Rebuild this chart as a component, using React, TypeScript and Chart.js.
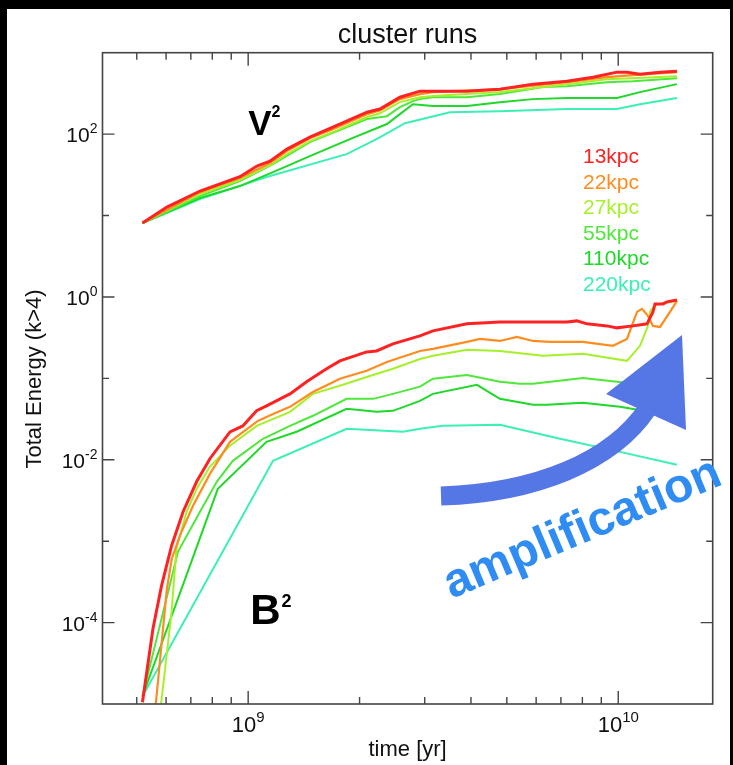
import { useEffect, useRef } from 'react';
import { Chart, registerables } from 'chart.js';

Chart.register(...registerables);

// ---------- data ----------
const seriesLabels = ['13kpc', '22kpc', '27kpc', '55kpc', '110kpc', '220kpc'];
const seriesColors = ['#ff2222', '#ff8c1e', '#a6f02a', '#4fe83a', '#1ed82a', '#3af0b4'];
const seriesWidths = [3, 2.2, 2, 2, 2, 2];

// V^2 (kinetic) curves: [time yr, energy]
const v2_13kpc = [[5.18e8, 8.1], [6.03e8, 12.7], [7.41e8, 20.0], [9.5e8, 30.0], [1.056e9, 40.5], [1.145e9, 46.6], [1.273e9, 65.5], [1.468e9, 92], [1.694e9, 122], [2.094e9, 186], [2.27e9, 203], [2.57e9, 284], [2.912e9, 337], [3.157e9, 337], [3.901e9, 337], [4.789e9, 356], [5.883e9, 411], [7.267e9, 447], [8.546e9, 500], [9.92e9, 577], [1.056e10, 577], [1.145e10, 545], [1.297e10, 577], [1.441e10, 593]];
const v2_22kpc = [[5.18e8, 8.1], [7.41e8, 19.4], [9.5e8, 29], [1.145e9, 44], [1.273e9, 62], [1.468e9, 89], [1.694e9, 115], [2.094e9, 176], [2.27e9, 195], [2.57e9, 269], [2.912e9, 310], [3.157e9, 328], [4.789e9, 356], [7.267e9, 435], [9.32e9, 500], [1.096e10, 530], [1.441e10, 577]];
const v2_27kpc = [[5.18e8, 8.1], [7.41e8, 18.4], [9.5e8, 27.3], [1.145e9, 41.7], [1.273e9, 56.8], [1.468e9, 82], [1.694e9, 106], [2.094e9, 162], [2.27e9, 180], [2.57e9, 247], [2.912e9, 284], [3.157e9, 293], [4.789e9, 328], [7.267e9, 411], [9.32e9, 473], [1.441e10, 515]];
const v2_55kpc = [[5.18e8, 8.1], [7.41e8, 17.3], [9.5e8, 26.5], [1.167e9, 42.8], [1.468e9, 79.8], [2.094e9, 153], [2.371e9, 166], [2.57e9, 214], [2.787e9, 254], [2.912e9, 269], [3.157e9, 284], [3.901e9, 284], [4.789e9, 310], [6.26e9, 378], [7.267e9, 388], [9.32e9, 435], [1.096e10, 447], [1.441e10, 486]];
const v2_110kpc = [[5.18e8, 8.1], [7.41e8, 16.4], [9.5e8, 23.0], [1.167e9, 34.2], [1.468e9, 53.7], [1.883e9, 86.9], [2.371e9, 133], [2.57e9, 176], [2.787e9, 233], [3.157e9, 221], [3.901e9, 221], [4.789e9, 247], [5.883e9, 269], [7.267e9, 277], [9.92e9, 277], [1.145e10, 328], [1.441e10, 411]];
const v2_220kpc = [[5.18e8, 8.1], [7.41e8, 15.9], [1.121e9, 29.7], [1.845e9, 56.8], [2.223e9, 86.9], [2.652e9, 136], [3.51e9, 186], [4.789e9, 191], [7.267e9, 203], [9.92e9, 203], [1.145e10, 233], [1.441e10, 277]];

// B^2 (magnetic) curves: [time yr, energy]
const b2_13kpc = [[5.18e8, 1.05e-5], [5.53e8, 8.4e-5], [5.83e8, 2.8e-4], [6.21e8, 8.8e-4], [6.67e8, 2.3e-3], [7.26e8, 5.4e-3], [7.88e8, 1.03e-2], [8.93e8, 2.2e-2], [9.67e8, 2.6e-2], [1.054e9, 4.0e-2], [1.121e9, 4.6e-2], [1.297e9, 6.45e-2], [1.438e9, 9.1e-2], [1.629e9, 0.131], [1.77e9, 0.164], [2.09e9, 0.211], [2.223e9, 0.217], [2.461e9, 0.265], [2.912e9, 0.332], [3.157e9, 0.383], [3.901e9, 0.467], [4.789e9, 0.493], [5.883e9, 0.493], [7.267e9, 0.493], [7.73e9, 0.508], [8.23e9, 0.467], [9.32e9, 0.441], [9.92e9, 0.417], [1.096e10, 0.441], [1.196e10, 0.467], [1.241e10, 0.655], [1.257e10, 0.82], [1.321e10, 0.82], [1.354e10, 0.869], [1.441e10, 0.918]];
const b2_22kpc = [[5.18e8, 2e-7], [6.03e8, 2.6e-4], [6.22e8, 6.1e-4], [6.54e8, 1.17e-3], [7.09e8, 2.7e-3], [7.88e8, 6.7e-3], [8.93e8, 1.66e-2], [1.062e9, 3.0e-2], [1.167e9, 3.66e-2], [1.297e9, 4.47e-2], [1.496e9, 6.8e-2], [1.77e9, 9.9e-2], [2.09e9, 0.124], [2.37e9, 0.159], [2.912e9, 0.217], [3.157e9, 0.23], [3.901e9, 0.281], [4.23e9, 0.305], [4.789e9, 0.288], [5.324e9, 0.323], [5.883e9, 0.288], [6.539e9, 0.281], [8.028e9, 0.281], [9.67e9, 0.251], [1.056e10, 0.305], [1.124e10, 0.655], [1.159e10, 0.713], [1.203e10, 0.585], [1.241e10, 0.441], [1.297e10, 0.428], [1.38e10, 0.655], [1.441e10, 0.893]];
const b2_27kpc = [[5.18e8, 1e-7], [6.21e8, 1.36e-4], [6.4e8, 8.1e-4], [6.82e8, 2.3e-3], [7.26e8, 4.4e-3], [7.88e8, 8.2e-3], [8.93e8, 1.49e-2], [1.054e9, 2.61e-2], [1.297e9, 3.88e-2], [1.496e9, 6.45e-2], [1.803e9, 8.33e-2], [2.09e9, 0.104], [2.461e9, 0.131], [2.912e9, 0.173], [3.157e9, 0.189], [3.901e9, 0.224], [4.789e9, 0.217], [6.26e9, 0.189], [8.028e9, 0.2], [1.056e10, 0.164], [1.145e10, 0.251], [1.203e10, 0.441], [1.218e10, 0.655], [1.257e10, 0.8], [1.354e10, 0.85], [1.441e10, 0.9]];
const b2_55kpc = [[5.18e8, 1.24e-5], [6.46e8, 7.4e-4], [7.41e8, 2.3e-3], [8.23e8, 5.4e-3], [9.09e8, 9.7e-3], [1.096e9, 1.81e-2], [1.297e9, 2.61e-2], [1.496e9, 3.47e-2], [1.845e9, 5.6e-2], [2.174e9, 5.6e-2], [2.461e9, 6.45e-2], [2.912e9, 7.9e-2], [3.157e9, 9.9e-2], [3.901e9, 0.11], [4.789e9, 0.0906], [5.424e9, 0.0857], [5.883e9, 0.0857], [8.028e9, 0.101], [9.92e9, 0.0906], [1.441e10, 0.0743]];
const b2_110kpc = [[5.18e8, 1.24e-5], [8.28e8, 4.4e-3], [1.121e9, 1.66e-2], [1.352e9, 2.21e-2], [1.845e9, 4.23e-2], [2.223e9, 3.88e-2], [2.461e9, 3.99e-2], [2.912e9, 5.29e-2], [3.157e9, 6.45e-2], [4.151e9, 8.33e-2], [4.789e9, 5.6e-2], [5.883e9, 4.73e-2], [6.42e9, 4.73e-2], [8.028e9, 5.0e-2], [1.011e10, 4.47e-2], [1.406e10, 3.47e-2]];
const b2_220kpc = [[5.18e8, 1.24e-5], [1.167e9, 9.7e-3], [1.845e9, 2.4e-2], [2.62e9, 2.21e-2], [2.912e9, 2.4e-2], [3.36e9, 2.61e-2], [4.789e9, 2.69e-2], [6.96e9, 1.81e-2], [1.011e10, 1.25e-2], [1.441e10, 8.7e-3]];

const v2Series = [v2_13kpc, v2_22kpc, v2_27kpc, v2_55kpc, v2_110kpc, v2_220kpc];
const b2Series = [b2_13kpc, b2_22kpc, b2_27kpc, b2_55kpc, b2_110kpc, b2_220kpc];

// axes
const xMin = 4.04e8;
const xMax = 1.8e10;
const yMin = 1e-5;
const yMax = 1e3;
const xTickValues = [5e8, 6e8, 7e8, 8e8, 9e8, 1e9, 2e9, 3e9, 4e9, 5e9, 6e9, 7e9, 8e9, 9e9, 1e10];
const xLabelValues = [1e9, 1e10];
const xLabelExps = ['9', '10'];
const yTickValues = [1e-4, 1e-3, 1e-2, 1e-1, 1, 10, 100];
const yLabelValues = [1e-4, 1e-2, 1, 100];
const yLabelExps = ['-4', '-2', '0', '2'];

const titleText = 'cluster runs';
const xTitle = 'time [yr]';
const yTitle = 'Total Energy (k>4)';
const arrowText = 'amplification';

const FONT = '"Liberation Sans", Arial, Helvetica, sans-serif';

function drawPow(ctx: CanvasRenderingContext2D, exp: string, x: number, y: number, align: 'center' | 'right', baseSize: number, supSize: number, supRise: number) {
  ctx.font = `${baseSize}px ${FONT}`;
  const w1 = ctx.measureText('10').width;
  ctx.font = `${supSize}px ${FONT}`;
  const w2 = ctx.measureText(exp).width;
  const total = w1 + w2;
  const x0 = align === 'center' ? x - total / 2 : x - total;
  ctx.textAlign = 'left';
  ctx.textBaseline = 'alphabetic';
  ctx.font = `${baseSize}px ${FONT}`;
  ctx.fillText('10', x0, y);
  ctx.font = `${supSize}px ${FONT}`;
  ctx.fillText(exp, x0 + w1, y - supRise);
}

const decorPlugin = {
  id: 'decor',
  beforeDraw(chart: any) {
    const ctx = chart.ctx as CanvasRenderingContext2D;
    ctx.save();
    ctx.fillStyle = '#000';
    ctx.fillRect(0, 0, chart.width, chart.height);
    ctx.fillStyle = '#fff';
    ctx.fillRect(7, 9, chart.width - 10, chart.height - 9);
    ctx.restore();
  },
  afterDraw(chart: any) {
    const ctx = chart.ctx as CanvasRenderingContext2D;
    const { left, right, top, bottom } = chart.chartArea;
    const xs = chart.scales.x;
    const ys = chart.scales.y;
    ctx.save();

    // frame
    ctx.strokeStyle = '#444';
    ctx.lineWidth = 1.6;
    ctx.strokeRect(left, top, right - left, bottom - top);

    // x ticks (bottom & top, inward)
    ctx.lineWidth = 1.4;
    ctx.beginPath();
    xTickValues.forEach((v) => {
      const px = xs.getPixelForValue(v);
      const len = xLabelValues.includes(v) ? 13 : 7;
      ctx.moveTo(px, bottom);
      ctx.lineTo(px, bottom - len);
      ctx.moveTo(px, top);
      ctx.lineTo(px, top + len);
    });
    // y ticks (left & right, inward)
    yTickValues.forEach((v) => {
      const py = ys.getPixelForValue(v);
      const len = yLabelValues.includes(v) ? 12 : 6.5;
      ctx.moveTo(left, py);
      ctx.lineTo(left + len, py);
      ctx.moveTo(right, py);
      ctx.lineTo(right - len, py);
    });
    ctx.stroke();

    // tick labels
    ctx.fillStyle = '#111';
    xLabelValues.forEach((v, i) => {
      const px = xs.getPixelForValue(v);
      drawPow(ctx, xLabelExps[i], px, bottom + 28, 'center', 22, 15, 9.7);
    });
    yLabelValues.forEach((v, i) => {
      const py = ys.getPixelForValue(v);
      drawPow(ctx, yLabelExps[i], left - 5, py + 8, 'right', 21, 14, 9);
    });

    // title
    ctx.fillStyle = '#111';
    ctx.textAlign = 'center';
    ctx.textBaseline = 'alphabetic';
    ctx.font = `27px ${FONT}`;
    ctx.fillText(titleText, (left + right) / 2, 43);

    // x title
    ctx.font = `22px ${FONT}`;
    ctx.fillText(xTitle, (left + right) / 2, 756);

    // y title
    ctx.save();
    ctx.translate(41, 379);
    ctx.rotate(-Math.PI / 2);
    ctx.font = `22px ${FONT}`;
    ctx.textAlign = 'center';
    ctx.fillText(yTitle, 0, 0);
    ctx.restore();

    // legend (coloured text)
    ctx.textAlign = 'left';
    ctx.font = `21px ${FONT}`;
    seriesLabels.forEach((lab, i) => {
      ctx.fillStyle = seriesColors[i];
      ctx.fillText(lab, left + 480.5, 163.3 + i * 25.5);
    });

    // V^2 and B^2 labels
    ctx.fillStyle = '#000';
    const vx = xs.getPixelForValue(1e9);
    const vy = ys.getPixelForValue(100);
    ctx.font = `bold 35px ${FONT}`;
    ctx.fillText('V', vx, vy + 0.5);
    const vw = ctx.measureText('V').width;
    ctx.font = `bold 16px ${FONT}`;
    ctx.fillText('2', vx + vw + 0, vy - 17);

    const bx = xs.getPixelForValue(1e9) + 2;
    const by = ys.getPixelForValue(1e-4) + 1;
    ctx.font = `bold 42px ${FONT}`;
    ctx.fillText('B', bx, by);
    const bw = ctx.measureText('B').width;
    ctx.font = `bold 18px ${FONT}`;
    ctx.fillText('2', bx + bw + 1, by - 17);

    // amplification arrow
    ctx.strokeStyle = '#5577e6';
    ctx.fillStyle = '#5577e6';
    ctx.lineWidth = 19;
    ctx.lineCap = 'butt';
    ctx.beginPath();
    ctx.moveTo(441, 496);
    ctx.bezierCurveTo(535, 493, 612, 462, 648, 408);
    ctx.stroke();
    ctx.beginPath();
    ctx.moveTo(606, 394);
    ctx.lineTo(682, 335);
    ctx.lineTo(686, 430);
    ctx.closePath();
    ctx.fill();

    // amplification text
    ctx.save();
    ctx.translate(451.5, 599);
    ctx.rotate(-0.4);
    ctx.fillStyle = '#2f8cf2';
    ctx.font = `bold 48px ${FONT}`;
    ctx.textAlign = 'left';
    ctx.fillText(arrowText, 0, 0);
    ctx.restore();

    ctx.restore();
  },
};

export default function App() {
  const canvasRef = useRef<HTMLCanvasElement | null>(null);

  useEffect(() => {
    const canvas = canvasRef.current;
    if (!canvas) return;
    const datasets: any[] = [];
    seriesLabels.forEach((lab, i) => {
      datasets.push({
        label: 'V2 ' + lab,
        data: v2Series[i].map(([x, y]) => ({ x, y })),
        borderColor: seriesColors[i],
        borderWidth: seriesWidths[i],
        pointRadius: 0,
        tension: 0,
        fill: false,
      });
      datasets.push({
        label: 'B2 ' + lab,
        data: b2Series[i].map(([x, y]) => ({ x, y })),
        borderColor: seriesColors[i],
        borderWidth: seriesWidths[i],
        pointRadius: 0,
        tension: 0,
        fill: false,
      });
    });

    const chart = new Chart(canvas, {
      type: 'line',
      data: { datasets },
      options: {
        animation: false,
        responsive: false,
        devicePixelRatio: 1,
        layout: { padding: { left: 102.5, right: 20.3, top: 52.7, bottom: 61 } },
        plugins: { legend: { display: false }, tooltip: { enabled: false }, title: { display: false } },
        scales: {
          x: { type: 'logarithmic', min: xMin, max: xMax, display: false },
          y: { type: 'logarithmic', min: yMin, max: yMax, display: false },
        },
      },
      plugins: [decorPlugin],
    } as any);

    return () => chart.destroy();
  }, []);

  return (
    <div style={{ position: 'fixed', left: 0, top: 0, width: 733, height: 765 }}>
      <canvas ref={canvasRef} width={733} height={765} style={{ display: 'block', width: 733, height: 765 }} />
    </div>
  );
}
